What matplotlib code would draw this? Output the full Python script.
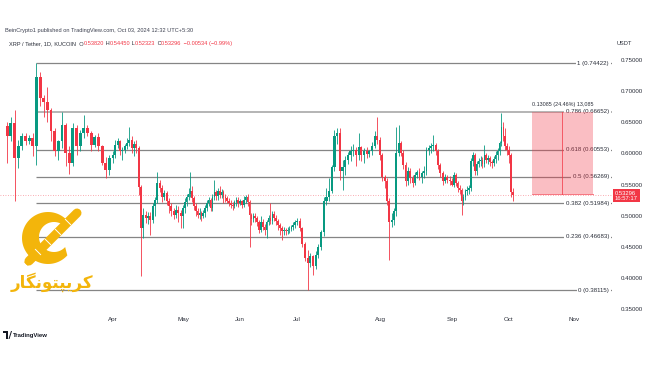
import datetime as dt
import numpy as np
import matplotlib
matplotlib.use("Agg")
import matplotlib.pyplot as plt
import matplotlib.dates as mdates
from matplotlib.patches import Rectangle, Ellipse, Polygon
from matplotlib.ticker import FormatStrFormatter

plt.rcParams['font.family'] = ['Liberation Sans', 'DejaVu Sans']

# ---------------- data (XRP/USDT daily, KuCoin) ----------------
first_day = dt.date(2024, 3, 3)

opens = (
    [0.644, 0.627, 0.648, 0.592, 0.611, 0.627, 0.620, 0.624, 0.611, 0.723, 0.688, 0.682, 0.669, 0.635, 0.603,
     0.619, 0.645, 0.600, 0.585, 0.640, 0.611, 0.632, 0.640, 0.632, 0.613, 0.626, 0.611, 0.584, 0.573] +
    [0.592, 0.598, 0.613, 0.619, 0.603, 0.606, 0.611, 0.617, 0.622, 0.608, 0.615, 0.608, 0.546, 0.481, 0.502,
     0.496, 0.500, 0.494, 0.515, 0.525, 0.553, 0.545, 0.530, 0.536, 0.524, 0.515, 0.508, 0.502, 0.510, 0.505] +
    [0.500, 0.512, 0.522, 0.530, 0.535, 0.540, 0.528, 0.515, 0.508, 0.502, 0.505, 0.500, 0.504, 0.512, 0.520,
     0.525, 0.512, 0.530, 0.538, 0.532, 0.540, 0.533, 0.538, 0.530, 0.528, 0.524, 0.520, 0.517, 0.515, 0.522, 0.526] +
    [0.520, 0.523, 0.518, 0.526, 0.530, 0.522, 0.501, 0.495, 0.500, 0.497, 0.490, 0.478, 0.490, 0.482, 0.478,
     0.490, 0.497, 0.492, 0.503, 0.497, 0.492, 0.485, 0.480, 0.476, 0.478, 0.475, 0.477, 0.479, 0.482, 0.486] +
    [0.490, 0.492, 0.480, 0.455, 0.432, 0.425, 0.435, 0.420, 0.437, 0.450, 0.474, 0.523, 0.530, 0.540, 0.578,
     0.627, 0.632, 0.571, 0.578, 0.590, 0.597, 0.603, 0.606, 0.597, 0.610, 0.598, 0.603, 0.599, 0.603, 0.612, 0.627] +
    [0.622, 0.597, 0.562, 0.556, 0.523, 0.490, 0.493, 0.507, 0.600, 0.616, 0.600, 0.581, 0.556, 0.572, 0.560,
     0.553, 0.566, 0.570, 0.562, 0.568, 0.572, 0.605, 0.608, 0.611, 0.613, 0.603, 0.581, 0.568, 0.556, 0.562, 0.558] +
    [0.556, 0.550, 0.565, 0.552, 0.545, 0.541, 0.523, 0.530, 0.539, 0.541, 0.545, 0.587, 0.597, 0.571, 0.583,
     0.587, 0.590, 0.583, 0.597, 0.590, 0.592, 0.586, 0.584, 0.591, 0.597, 0.603, 0.616, 0.643, 0.628, 0.611] +
    [0.605, 0.597, 0.53820]
)
highs = (
    [0.651, 0.659, 0.669, 0.621, 0.632, 0.632, 0.629, 0.632, 0.7442, 0.730, 0.693, 0.707, 0.672, 0.640, 0.621,
     0.667, 0.648, 0.612, 0.648, 0.645, 0.638, 0.661, 0.645, 0.635, 0.630, 0.632, 0.614, 0.594, 0.597] +
    [0.603, 0.621, 0.625, 0.622, 0.610, 0.615, 0.625, 0.643, 0.628, 0.620, 0.622, 0.612, 0.550, 0.512, 0.508,
     0.506, 0.506, 0.520, 0.530, 0.570, 0.558, 0.550, 0.542, 0.540, 0.528, 0.520, 0.512, 0.518, 0.515, 0.510] +
    [0.518, 0.528, 0.535, 0.545, 0.570, 0.548, 0.532, 0.520, 0.512, 0.512, 0.508, 0.510, 0.518, 0.525, 0.530,
     0.528, 0.535, 0.557, 0.542, 0.545, 0.547, 0.543, 0.542, 0.535, 0.532, 0.528, 0.525, 0.522, 0.526, 0.530, 0.530] +
    [0.527, 0.526, 0.532, 0.534, 0.535, 0.525, 0.505, 0.505, 0.504, 0.500, 0.494, 0.500, 0.495, 0.487, 0.494,
     0.502, 0.520, 0.508, 0.507, 0.502, 0.495, 0.489, 0.484, 0.482, 0.481, 0.482, 0.483, 0.486, 0.490, 0.494] +
    [0.497, 0.496, 0.482, 0.458, 0.445, 0.440, 0.438, 0.443, 0.455, 0.478, 0.530, 0.545, 0.560, 0.582, 0.637,
     0.640, 0.640, 0.590, 0.595, 0.602, 0.612, 0.615, 0.610, 0.632, 0.612, 0.608, 0.610, 0.606, 0.618, 0.635, 0.659] +
    [0.626, 0.600, 0.566, 0.560, 0.528, 0.505, 0.513, 0.643, 0.645, 0.620, 0.605, 0.586, 0.578, 0.576, 0.566,
     0.570, 0.574, 0.576, 0.572, 0.580, 0.610, 0.613, 0.617, 0.629, 0.617, 0.607, 0.585, 0.572, 0.567, 0.566, 0.563] +
    [0.560, 0.570, 0.568, 0.556, 0.550, 0.545, 0.535, 0.543, 0.548, 0.550, 0.592, 0.602, 0.600, 0.588, 0.592,
     0.595, 0.594, 0.613, 0.600, 0.597, 0.595, 0.590, 0.596, 0.603, 0.608, 0.620, 0.664, 0.650, 0.640, 0.617] +
    [0.612, 0.600, 0.54450]
)
lows = (
    [0.584, 0.619, 0.524, 0.576, 0.606, 0.613, 0.615, 0.595, 0.581, 0.676, 0.658, 0.651, 0.619, 0.595, 0.589,
     0.608, 0.580, 0.567, 0.580, 0.597, 0.604, 0.624, 0.627, 0.603, 0.610, 0.603, 0.581, 0.560, 0.565] +
    [0.584, 0.592, 0.609, 0.598, 0.590, 0.601, 0.607, 0.612, 0.600, 0.595, 0.600, 0.533, 0.403, 0.465, 0.488,
     0.487, 0.470, 0.489, 0.500, 0.520, 0.538, 0.522, 0.525, 0.518, 0.505, 0.500, 0.495, 0.497, 0.490, 0.480] +
    [0.481, 0.505, 0.515, 0.526, 0.530, 0.522, 0.510, 0.500, 0.497, 0.495, 0.492, 0.496, 0.498, 0.507, 0.515,
     0.508, 0.508, 0.526, 0.526, 0.525, 0.528, 0.528, 0.520, 0.522, 0.520, 0.515, 0.512, 0.510, 0.512, 0.516, 0.514] +
    [0.517, 0.512, 0.514, 0.520, 0.515, 0.450, 0.485, 0.490, 0.490, 0.483, 0.472, 0.474, 0.477, 0.470, 0.464,
     0.485, 0.487, 0.487, 0.492, 0.486, 0.478, 0.470, 0.461, 0.470, 0.470, 0.471, 0.472, 0.475, 0.478, 0.480] +
    [0.485, 0.476, 0.450, 0.428, 0.3812, 0.418, 0.405, 0.415, 0.432, 0.445, 0.468, 0.518, 0.524, 0.536, 0.572,
     0.615, 0.557, 0.541, 0.565, 0.583, 0.588, 0.595, 0.580, 0.590, 0.587, 0.585, 0.592, 0.594, 0.598, 0.608, 0.615] +
    [0.590, 0.555, 0.545, 0.518, 0.429, 0.482, 0.486, 0.500, 0.595, 0.595, 0.575, 0.548, 0.550, 0.552, 0.546,
     0.549, 0.560, 0.557, 0.553, 0.560, 0.566, 0.597, 0.600, 0.604, 0.598, 0.575, 0.562, 0.550, 0.552, 0.552, 0.550] +
    [0.547, 0.546, 0.548, 0.538, 0.535, 0.501, 0.518, 0.525, 0.533, 0.535, 0.540, 0.580, 0.565, 0.566, 0.578,
     0.580, 0.577, 0.578, 0.584, 0.583, 0.580, 0.577, 0.580, 0.585, 0.590, 0.598, 0.612, 0.620, 0.605, 0.597] +
    [0.585, 0.530, 0.52323]
)
closes = (
    [0.627, 0.648, 0.592, 0.611, 0.627, 0.620, 0.624, 0.611, 0.723, 0.688, 0.682, 0.669, 0.635, 0.603, 0.619,
     0.645, 0.600, 0.585, 0.640, 0.611, 0.632, 0.640, 0.632, 0.613, 0.626, 0.611, 0.584, 0.573, 0.592] +
    [0.598, 0.613, 0.619, 0.603, 0.606, 0.611, 0.617, 0.622, 0.608, 0.615, 0.608, 0.546, 0.481, 0.502, 0.496,
     0.500, 0.494, 0.515, 0.525, 0.553, 0.545, 0.530, 0.536, 0.524, 0.515, 0.508, 0.502, 0.510, 0.505, 0.500] +
    [0.512, 0.522, 0.530, 0.535, 0.540, 0.528, 0.515, 0.508, 0.502, 0.505, 0.500, 0.504, 0.512, 0.520, 0.525,
     0.512, 0.530, 0.538, 0.532, 0.540, 0.533, 0.538, 0.530, 0.528, 0.524, 0.520, 0.517, 0.515, 0.522, 0.526, 0.520] +
    [0.523, 0.518, 0.526, 0.530, 0.522, 0.501, 0.495, 0.500, 0.497, 0.490, 0.478, 0.490, 0.482, 0.478, 0.490,
     0.497, 0.492, 0.503, 0.497, 0.492, 0.485, 0.480, 0.476, 0.478, 0.475, 0.477, 0.479, 0.482, 0.486, 0.490] +
    [0.492, 0.480, 0.455, 0.432, 0.425, 0.435, 0.420, 0.437, 0.450, 0.474, 0.523, 0.530, 0.540, 0.578, 0.627,
     0.632, 0.571, 0.578, 0.590, 0.597, 0.603, 0.606, 0.597, 0.610, 0.598, 0.603, 0.599, 0.603, 0.612, 0.627, 0.622] +
    [0.597, 0.562, 0.556, 0.523, 0.490, 0.493, 0.507, 0.600, 0.616, 0.600, 0.581, 0.556, 0.572, 0.560, 0.553,
     0.566, 0.570, 0.562, 0.568, 0.572, 0.605, 0.608, 0.611, 0.613, 0.603, 0.581, 0.568, 0.556, 0.562, 0.558, 0.556] +
    [0.550, 0.565, 0.552, 0.545, 0.541, 0.523, 0.530, 0.539, 0.541, 0.545, 0.587, 0.597, 0.571, 0.583, 0.587,
     0.590, 0.583, 0.597, 0.590, 0.592, 0.586, 0.584, 0.591, 0.597, 0.603, 0.616, 0.643, 0.628, 0.611, 0.605] +
    [0.597, 0.538, 0.53296]
)

month_labels = ['Apr', 'May', 'Jun', 'Jul', 'Aug', 'Sep', 'Oct', 'Nov']
month_starts = [dt.date(2024, m, 1) for m in range(4, 12)]
price_ticks = [0.35, 0.40, 0.45, 0.50, 0.55, 0.60, 0.65, 0.70, 0.75]

fib_ratios = ['0', '0.236', '0.382', '0.5', '0.618', '0.786', '1']
fib_prices = [0.38115, 0.46683, 0.51984, 0.56269, 0.60553, 0.66652, 0.74422]
fib_start = dt.date(2024, 3, 11)

last_price = 0.53296
countdown = '16:57:17'
pos_entry, pos_target = 0.53567, 0.66652
pos_start, pos_end = dt.date(2024, 10, 12), dt.date(2024, 11, 10)
pos_text = '0.13085 (24.46%) 13,085'

# ---------------- figure ----------------
UP, DN = '#089981', '#F23645'
TXT = '#2a2e39'
W, H = 650, 365
fig = plt.figure(figsize=(W / 100, H / 100), dpi=100)
fig.patch.set_facecolor('white')

ax = fig.add_axes([0, 53 / H, 612 / W, 262 / H])
ax.set_facecolor('white')

# piecewise-linear time scale (as the chart's own time axis is laid out)
anchor_d = mdates.date2num([dt.date(2023, 12, 1), dt.date(2024, 3, 1), dt.date(2024, 4, 1), dt.date(2024, 5, 1),
                            dt.date(2024, 6, 1), dt.date(2024, 7, 1), dt.date(2024, 8, 1), dt.date(2024, 9, 1),
                            dt.date(2024, 10, 1), dt.date(2024, 11, 1), dt.date(2024, 12, 1), dt.date(2025, 3, 1)])
anchor_p = np.array([-330, 0, 113, 183, 240, 297, 380, 452, 509, 574, 637, 826], dtype=float)


def fwd(v):
    return np.interp(np.asarray(v, dtype=float), anchor_d, anchor_p)


def inv(v):
    return np.interp(np.asarray(v, dtype=float), anchor_p, anchor_d)


ax.set_xscale('function', functions=(fwd, inv))

n = len(closes)
x = mdates.date2num([first_day + dt.timedelta(days=i) for i in range(n)])
o, h, l, c = map(np.asarray, (opens, highs, lows, closes))
up = c >= o
col = np.where(up, UP, DN)

# fib levels
fx0 = mdates.date2num(fib_start)
fx1 = inv(612)
for r, p in zip(fib_ratios, fib_prices):
    lc = '#a8a8a8' if r == '0.786' else '#858585'
    lw = 1.2 if r == '0.786' else 0.9
    ax.plot([fx0, fx1], [p, p], color=lc, lw=lw, zorder=1, solid_capstyle='butt')
    ax.annotate(f'{r} ({p:.5f})', xy=(1, p), xycoords=('axes fraction', 'data'),
                xytext=(-3, 0), textcoords='offset pixels', ha='right', va='center',
                fontsize=4.4, color=TXT, zorder=2,
                bbox=dict(boxstyle='square,pad=0.25', fc='white', ec='none'))

# candles
ax.vlines(x, l, h, colors=col, lw=0.6, zorder=3)
body = np.abs(c - o)
vis = np.maximum(body, 0.0012)
mid = (o + c) / 2
ax.bar(x, vis, bottom=mid - vis / 2, width=0.8, color=col, lw=0, zorder=4)

# last price line
ax.axhline(last_price, color=DN, lw=0.6, ls=(0, (1, 2)), alpha=0.55, zorder=2)

# position tool
px0, px1 = mdates.date2num(pos_start), mdates.date2num(pos_end)
ax.add_patch(Rectangle((px0, pos_entry), px1 - px0, pos_target - pos_entry,
                       fc=DN, alpha=0.32, ec='none', zorder=5))
pmid = (px0 + px1) / 2
ax.plot([pmid, pmid], [pos_entry, pos_target], color=DN, lw=0.7, alpha=0.75, zorder=6)
ax.plot([px0, px1], [pos_entry, pos_entry], color=DN, lw=0.6, alpha=0.8, zorder=6)
ax.annotate(pos_text, xy=(pmid, pos_target), xytext=(0, 5), textcoords='offset pixels',
            ha='center', va='bottom', fontsize=3.9, color=TXT, zorder=6)

# price tag
ax.annotate(f'{last_price:.5f}\n{countdown}', xy=(1, last_price - 0.0007), xycoords=('axes fraction', 'data'),
            xytext=(3, 0), textcoords='offset pixels', ha='left', va='center', fontsize=4.2,
            color='white', linespacing=1.05, annotation_clip=False, zorder=7,
            bbox=dict(boxstyle='square,pad=0.3', fc=DN, ec='none'))

# axes styling
ax.set_xlim(inv(0), inv(612))
ax.set_ylim(0.34592, 0.76552)
ax.set_xticks(mdates.date2num(month_starts))
ax.set_xticklabels(month_labels)
ax.set_yticks(price_ticks)
ax.yaxis.set_major_formatter(FormatStrFormatter('%.5f'))
ax.yaxis.tick_right()
ax.tick_params(axis='y', length=0, pad=6, labelsize=4.4, labelcolor=TXT)
ax.tick_params(axis='x', length=0, pad=3.5, labelsize=4.5, labelcolor=TXT)
for s in ax.spines.values():
    s.set_visible(False)

# ---------------- overlay (header, watermark) in pixel space ----------------
ov = fig.add_axes([0, 0, 1, 1], zorder=10)
ov.set_xlim(0, W)
ov.set_ylim(H, 0)
ov.axis('off')
ov.patch.set_alpha(0)

ov.text(5, 30.5, 'BeinCrypto1 published on TradingView.com, Oct 03, 2024 12:32 UTC+5:30',
        fontsize=4.1, color='#3d4150', va='center', ha='left')

pieces = [('XRP / Tether, 1D, KUCOIN  O', TXT), ('0.53820', DN), (' H', TXT), ('0.54450', DN),
          (' L', TXT), ('0.52323', DN), (' C', TXT), ('0.53296', DN), (' \u22120.00534 (\u22120.99%)', DN)]
prev = ov.text(9, 43.5, pieces[0][0], fontsize=4.1, color=pieces[0][1], va='center', ha='left')
for s, cc in pieces[1:]:
    prev = ov.annotate(s, xy=(1, 0.5), xycoords=prev, va='center', ha='left', fontsize=4.1, color=cc)

ov.text(617, 43.5, 'USDT', fontsize=4.1, color=TXT, va='center', ha='left')

# TradingView mark
ov.add_patch(Polygon([[3, 331], [8, 331], [8, 339], [6, 339], [6, 333], [3, 333]], closed=True,
                     fc='#131722', ec='none'))
ov.add_patch(Polygon([[8.5, 339], [11, 331], [12, 331], [9.5, 339]], closed=True, fc='#131722', ec='none'))
ov.text(13, 335, 'TradingView', fontsize=4.3, color='#131722', va='center', ha='left', fontweight='bold')

# watermark logo: crescent "C" with a chain
GOLD = '#F3B50B'
th_o = np.radians(np.linspace(42, 318, 80))
th_i = np.radians(np.linspace(318, 42, 80))
outer = np.column_stack([48 + 26 * np.cos(th_o), 238 - 26 * np.sin(th_o)])
inner = np.column_stack([54 + 15 * np.cos(th_i), 237 - 15 * np.sin(th_i)])
ov.add_patch(Polygon(np.vstack([outer, inner]), closed=True, fc=GOLD, ec='none'))
ov.plot([29, 77], [261, 213], color=GOLD, lw=6.5, solid_capstyle='round')
for k in range(5):
    cx, cy = 33 + 10 * k, 257 - 10 * k
    ov.add_patch(Ellipse((cx, cy), 6.5, 2.2, angle=45, fc='white', ec='none'))
for k in range(4):
    sx, sy = 38 + 10 * k, 252 - 10 * k
    ov.plot([sx - 2.6, sx + 2.6], [sy - 2.6, sy + 2.6], color='white', lw=0.7)
ov.add_patch(Polygon([[24, 262], [31, 259], [28, 266]], closed=True, fc=GOLD, ec='none'))
persian = '\uFEAD\uFE8E\uFB95\uFEE7\uFEEE\uFE98\uFB59\uFBFE\uFEAE\uFB90'
ov.text(52, 282, persian, fontsize=12, color=GOLD, ha='center', va='center',
        family=['DejaVu Sans'], fontweight='bold')

fig.savefig('out.png', dpi=100, facecolor='white')
